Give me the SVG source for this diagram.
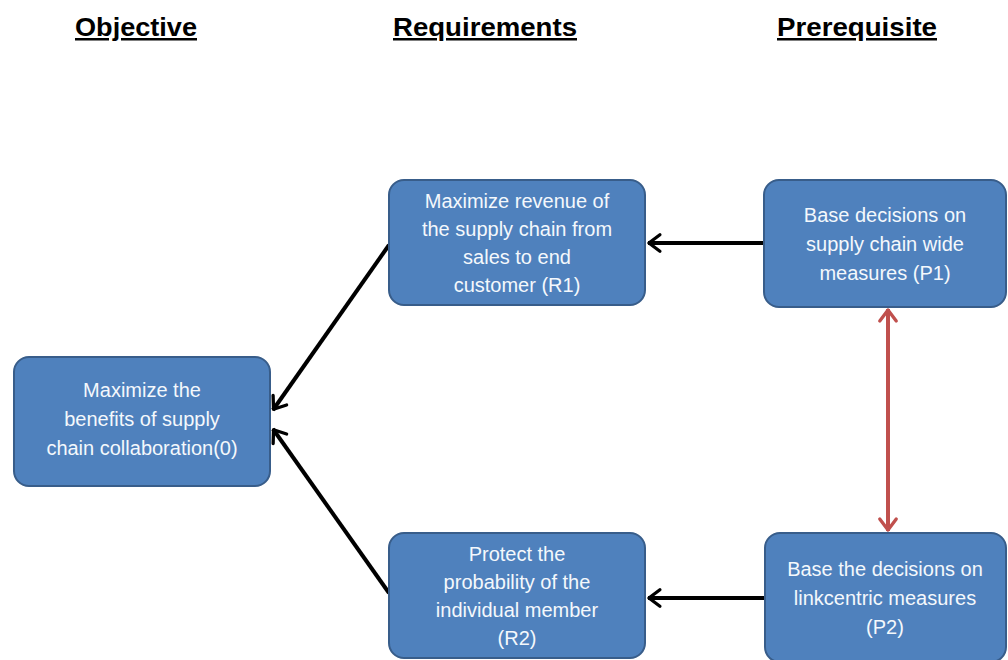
<svg xmlns="http://www.w3.org/2000/svg" width="1008" height="660" viewBox="0 0 1008 660">
  <defs>
    <style>
      .hdr { font-family: "Liberation Sans", Arial, sans-serif; font-size: 25px; font-weight: bold; fill: #000; text-decoration: underline; text-anchor: middle; }
      .box { fill: #4f81bd; stroke: #385d8a; stroke-width: 2; }
      .lbl { font-family: "Liberation Sans", Arial, sans-serif; font-size: 20px; fill: #f4f8fc; text-anchor: middle; }
      .con { stroke: #000; stroke-width: 4; fill: none; }
      .red { stroke: #c0504d; stroke-width: 4; fill: none; }
    </style>
    <marker id="openBlack" viewBox="0 0 12 12" refX="10.5" refY="6" markerWidth="5.5" markerHeight="5.5" orient="auto-start-reverse" markerUnits="strokeWidth">
      <path d="M4,1.5 L10,6 L4,10.5" fill="none" stroke="#000" stroke-width="1.8" stroke-linecap="round" stroke-linejoin="round"/>
    </marker>
    <marker id="openRed" viewBox="0 0 12 12" refX="10.5" refY="6" markerWidth="5.5" markerHeight="5.5" orient="auto-start-reverse" markerUnits="strokeWidth">
      <path d="M4,1.5 L10,6 L4,10.5" fill="none" stroke="#c0504d" stroke-width="1.8" stroke-linecap="round" stroke-linejoin="round"/>
    </marker>
  </defs>

  <rect width="1008" height="660" fill="#ffffff"/>

  <!-- column headings -->
  <g id="headings">
    <text class="hdr" x="136" y="36" textLength="122" lengthAdjust="spacingAndGlyphs">Objective</text>
    <text class="hdr" x="485" y="36" textLength="184" lengthAdjust="spacingAndGlyphs">Requirements</text>
    <text class="hdr" x="857" y="36" textLength="160" lengthAdjust="spacingAndGlyphs">Prerequisite</text>
  </g>

  <!-- connectors -->
  <g id="connectors">
    <line class="con" x1="389" y1="245" x2="273" y2="410" marker-end="url(#openBlack)"/>
    <line class="con" x1="389" y1="593" x2="273" y2="429" marker-end="url(#openBlack)"/>
    <line class="con" x1="764" y1="243" x2="648" y2="243" marker-end="url(#openBlack)"/>
    <line class="con" x1="765" y1="598" x2="648" y2="598" marker-end="url(#openBlack)"/>
    <line class="red" x1="888" y1="309" x2="888" y2="531" marker-start="url(#openRed)" marker-end="url(#openRed)"/>
  </g>

  <!-- objective -->
  <g id="node-O">
    <rect class="box" x="14" y="357" width="256" height="129" rx="15"/>
    <text class="lbl" x="142" y="397">Maximize the</text>
    <text class="lbl" x="142" y="426">benefits of supply</text>
    <text class="lbl" x="142" y="455">chain collaboration(0)</text>
  </g>

  <!-- requirements -->
  <g id="node-R1">
    <rect class="box" x="389" y="180" width="256" height="125" rx="15"/>
    <text class="lbl" x="517" y="208">Maximize revenue of</text>
    <text class="lbl" x="517" y="236">the supply chain from</text>
    <text class="lbl" x="517" y="264">sales to end</text>
    <text class="lbl" x="517" y="292">customer (R1)</text>
  </g>

  <g id="node-R2">
    <rect class="box" x="389" y="533" width="256" height="125" rx="15"/>
    <text class="lbl" x="517" y="561">Protect the</text>
    <text class="lbl" x="517" y="589">probability of the</text>
    <text class="lbl" x="517" y="617">individual member</text>
    <text class="lbl" x="517" y="645">(R2)</text>
  </g>

  <!-- prerequisites -->
  <g id="node-P1">
    <rect class="box" x="764" y="180" width="242" height="127" rx="15"/>
    <text class="lbl" x="885" y="222">Base decisions on</text>
    <text class="lbl" x="885" y="251">supply chain wide</text>
    <text class="lbl" x="885" y="280">measures (P1)</text>
  </g>

  <g id="node-P2">
    <rect class="box" x="765" y="533" width="241" height="129" rx="15"/>
    <text class="lbl" x="885" y="576">Base the decisions on</text>
    <text class="lbl" x="885" y="605">linkcentric measures</text>
    <text class="lbl" x="885" y="634">(P2)</text>
  </g>
</svg>
